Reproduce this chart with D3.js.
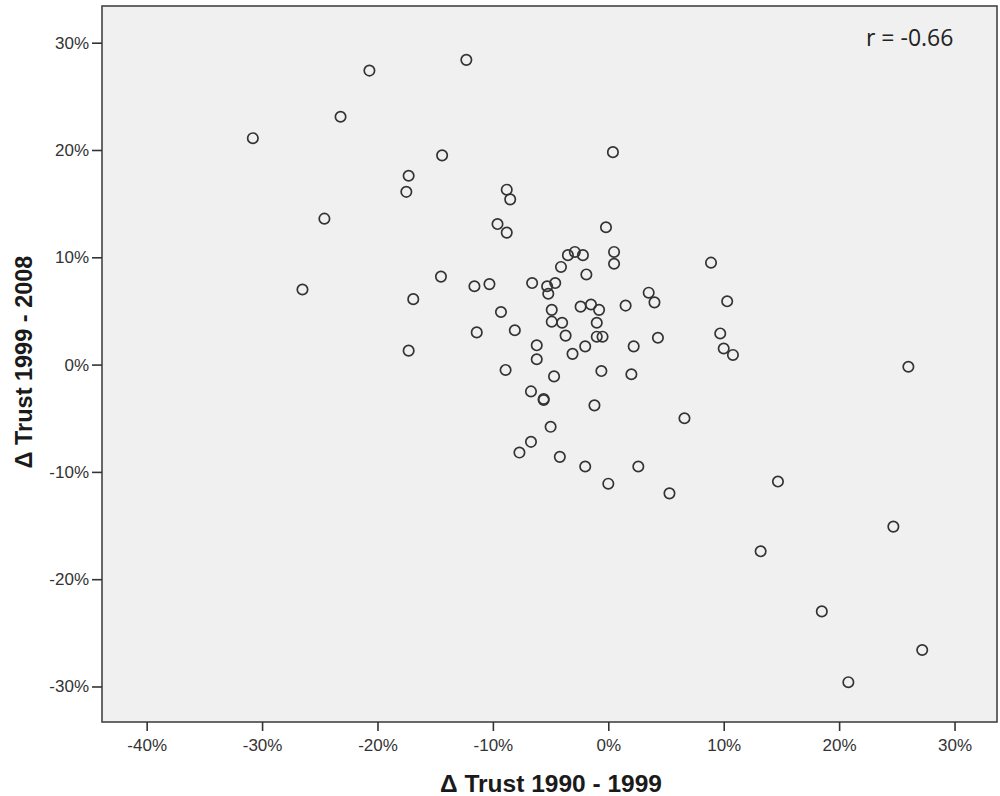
<!DOCTYPE html>
<html>
<head>
<meta charset="utf-8">
<script src="https://cdn.jsdelivr.net/npm/d3@7"></script>
<style>
  body { margin: 0; background: #fff; }
</style>
</head>
<body>
<div id="chart"></div>
<script>
// change of trust, in percent
const trust9099 = [
  -30.8, -26.5, -24.6, -23.2, -20.7, -17.5, -17.3, -17.3, -16.9, -14.4,
  -14.5, -12.3, -11.6, -11.4, -10.3, -9.6, -9.3, -8.8, -8.5, -8.8,
  -8.9, -8.1, -7.7, -6.7, -6.7, -6.6, -6.2, -6.2, -5.6, -5.6,
  -5.3, -5.2, -5.0, -4.9, -4.9, -4.7, -4.6, -4.2, -4.1, -4.0,
  -3.7, -3.5, -3.1, -2.9, -2.4, -2.2, -2.0, -2.0, -1.9, -1.5,
  -1.2, -1.0, -0.8, -1.0, -0.5, -0.6, -0.2, 0.0, 0.4, 0.5,
  0.5, 1.5, 2.2, 2.0, 2.6, 3.5, 4.0, 4.3, 5.3, 6.6,
  8.9, 9.7, 10.0, 10.3, 10.8, 13.2, 14.7, 18.5, 20.8, 24.7,
  26.0, 27.2
];
const trust9908 = [
  21.1, 7.0, 13.6, 23.1, 27.4, 16.1, 17.6, 1.3, 6.1, 19.5,
  8.2, 28.4, 7.3, 3.0, 7.5, 13.1, 4.9, 16.3, 15.4, 12.3,
  -0.5, 3.2, -8.2, -7.2, -2.5, 7.6, 1.8, 0.5, -3.3, -3.2,
  7.3, 6.6, -5.8, 5.1, 4.0, -1.1, 7.6, -8.6, 9.1, 3.9,
  2.7, 10.2, 1.0, 10.5, 5.4, 10.2, -9.5, 1.7, 8.4, 5.6,
  -3.8, 3.9, 5.1, 2.6, 2.6, -0.6, 12.8, -11.1, 19.8, 10.5,
  9.4, 5.5, 1.7, -0.9, -9.5, 6.7, 5.8, 2.5, -12.0, -5.0,
  9.5, 2.9, 1.5, 5.9, 0.9, -17.4, -10.9, -23.0, -29.6, -15.1,
  -0.2, -26.6
];
const xTicks = [-40, -30, -20, -10, 0, 10, 20, 30];
const yTicks = [-30, -20, -10, 0, 10, 20, 30];
const xTitle = "\u0394 Trust 1990 - 1999";
const yTitle = "\u0394 Trust 1999 - 2008";
const rLabel = "r = -0.66";

const width = 1000;
const height = 796;
const plot = { left: 102, top: 6, right: 997, bottom: 722 };
const FONT = "Liberation Sans, Arial, sans-serif";

const svg = d3.select("#chart").append("svg")
  .attr("width", width)
  .attr("height", height);

// scales (domain chosen so the frame edges fall where the picture has them)
const x = d3.scaleLinear()
  .domain([-43.87, 33.68])
  .range([plot.left, plot.right]);
const y = d3.scaleLinear()
  .domain([-33.31, 33.42])
  .range([plot.bottom, plot.top]);

// plot background + frame
svg.append("rect")
  .attr("x", plot.left)
  .attr("y", plot.top)
  .attr("width", plot.right - plot.left)
  .attr("height", plot.bottom - plot.top)
  .attr("fill", "#f0f0f0")
  .attr("stroke", "#444")
  .attr("stroke-width", 1.6);

// x axis
const xAxis = svg.append("g")
  .attr("transform", `translate(0,${plot.bottom})`)
  .call(d3.axisBottom(x).tickValues(xTicks).tickSize(9).tickPadding(8).tickFormat(d => d + "%"));
// y axis
const yAxis = svg.append("g")
  .attr("transform", `translate(${plot.left},0)`)
  .call(d3.axisLeft(y).tickValues(yTicks).tickSize(10).tickPadding(3).tickFormat(d => d + "%"));

[xAxis, yAxis].forEach(ax => {
  ax.select(".domain").remove();
  ax.selectAll("line").attr("stroke", "#333").attr("stroke-width", 1.6);
  ax.selectAll("text")
    .attr("fill", "#333")
    .style("font-family", FONT)
    .style("font-size", "17px");
});

// points
svg.append("g")
  .selectAll("circle")
  .data(d3.zip(trust9099, trust9908))
  .join("circle")
  .attr("cx", d => x(d[0]))
  .attr("cy", d => y(d[1]))
  .attr("r", 5.2)
  .attr("fill", "none")
  .attr("stroke", "#333")
  .attr("stroke-width", 1.7);

// axis titles
svg.append("text")
  .attr("x", 551)
  .attr("y", 792)
  .attr("text-anchor", "middle")
  .attr("fill", "#1a1a1a")
  .style("font-family", FONT)
  .style("font-weight", "bold")
  .style("font-size", "24.5px")
  .text(xTitle);

svg.append("text")
  .attr("transform", `translate(32,362) rotate(-90)`)
  .attr("text-anchor", "middle")
  .attr("fill", "#1a1a1a")
  .style("font-family", FONT)
  .style("font-weight", "bold")
  .style("font-size", "23.5px")
  .text(yTitle);

// correlation note
svg.append("text")
  .attr("x", 866)
  .attr("y", 46)
  .attr("fill", "#222")
  .style("font-family", "Open Sans, sans-serif")
  .style("font-size", "23px")
  .text(rLabel);
</script>
</body>
</html>
